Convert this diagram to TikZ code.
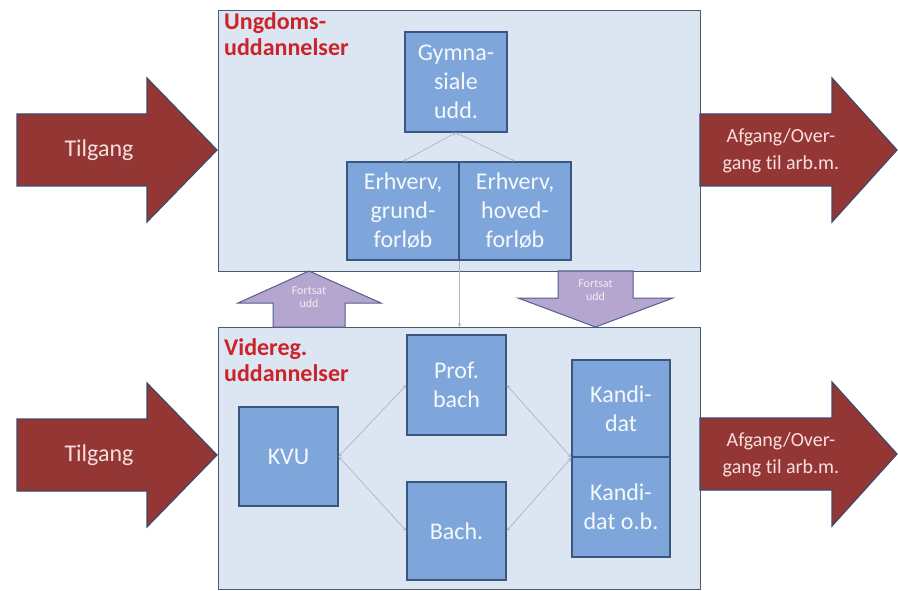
\documentclass[tikz,border=0pt]{standalone}
\usepackage{fontspec}
\setmainfont[Ligatures=NoCommon]{Carlito}
\definecolor{panelfill}{HTML}{DCE6F2}
\definecolor{panelline}{HTML}{4A5A72}
\definecolor{unitfill}{HTML}{7FA6DA}
\definecolor{unitline}{HTML}{3B5680}
\definecolor{flowfill}{HTML}{943634}
\definecolor{flowline}{HTML}{3C4A6B}
\definecolor{arrowpink}{HTML}{F6E0DE}
\definecolor{movefill}{HTML}{B4A6CF}
\definecolor{moveline}{HTML}{52618A}
\definecolor{linkgray}{HTML}{A7B6CB}
\definecolor{titlered}{HTML}{CC2229}

\begin{document}
\begin{tikzpicture}[x=1pt,y=-1pt,
    panel/.style={draw=panelline, fill=panelfill, line width=1.3pt, minimum width=482pt, anchor=north west, inner sep=0pt},
    unit/.style={draw=unitline, fill=unitfill, line width=1.2pt, text=white!92!unitfill, align=center, inner sep=0pt, font=\fontsize{24}{29}\selectfont},
    flow/.style={draw=flowline, fill=flowfill, line width=1.2pt},
    flowtext/.style={text=arrowpink, align=center},
    moveon/.style={draw=moveline, fill=movefill, line width=1pt},
    movetext/.style={text=white!80!movefill, align=center, font=\fontsize{12}{13}\selectfont},
    heading/.style={text=titlered, align=left, anchor=north west, inner sep=0pt, font=\bfseries\fontsize{24}{26}\selectfont},
    link/.style={draw=linkgray, line width=0.7pt, <->, >=stealth}]
            \useasboundingbox (0,0) rectangle (898,591);
            \node[panel, minimum height=261pt] (ungdom) at (218,10) {};
            \node[panel, minimum height=262pt] (videreg) at (218,327) {};
            \node[heading] (ungtitle) at (224,12) {Ungdoms-\\uddannelser};
            \node[heading] (vidtitle) at (224,338) {Videreg.\\uddannelser};
            \draw[moveon] (273,327) -- (273,303) -- (238,303) -- (309,271) -- (381,303) -- (345,303) -- (345,327) -- cycle;
            \node[movetext] (upnote) at (309,297) {Fortsat\\udd};
            \draw[moveon] (558,271) -- (633,271) -- (633,298) -- (673,298) -- (595.5,327) -- (518,298) -- (558,298) -- cycle;
            \node[movetext] (downnote) at (595.5,290) {Fortsat\\udd};
            \node[unit, minimum width=102pt, minimum height=100pt] (gym) at (456,82) {Gymna-\\siale\\udd.};
            \node[unit, minimum width=112pt, minimum height=98pt] (grund) at (403,211) {Erhverv,\\grund-\\forløb};
            \node[unit, minimum width=112pt, minimum height=98pt] (hoved) at (515,211) {Erhverv,\\hoved-\\forløb};
            \node[unit, minimum width=99pt, minimum height=100pt] (prof) at (456.5,385) {Prof.\\bach};
            \node[unit, minimum width=99pt, minimum height=98pt] (bach) at (456.5,531) {Bach.};
            \node[unit, minimum width=99pt, minimum height=99pt] (kvu) at (288.5,456.5) {KVU};
            \node[unit, minimum width=98pt, minimum height=97pt] (kand) at (621,408.5) {Kandi-\\dat};
            \node[unit, minimum width=98pt, minimum height=100pt] (kandob) at (621,507) {Kandi-\\dat o.b.};
            \draw[link] (gym.south) -- (grund.north);
            \draw[link] (gym.south) -- (hoved.north);
            \draw[link, ->] (grund.south east) -- (grund.south east |- videreg.north);
            \draw[link] (kvu.east) -- (prof.west);
            \draw[link] (kvu.east) -- (bach.west);
            \draw[link] (prof.east) -- (kand.south west);
            \draw[link] (bach.east) -- (kand.south west);
            \draw[flow] (17,114) -- (147,114) -- (147,78) -- (217,150) -- (147,222) -- (147,186) -- (17,186) -- cycle;
            \node[flowtext, font=\fontsize{24}{29}\selectfont] (intop) at (99,150) {Tilgang};
            \draw[flow] (17,419) -- (147,419) -- (147,383) -- (217,455) -- (147,527) -- (147,491) -- (17,491) -- cycle;
            \node[flowtext, font=\fontsize{24}{29}\selectfont] (inbottom) at (99,455) {Tilgang};
            \draw[flow] (700,114) -- (832,114) -- (832,78) -- (897,150) -- (832,222) -- (832,186) -- (700,186) -- cycle;
            \node[flowtext, font=\fontsize{20}{27}\selectfont] (outtop) at (781,151) {Afgang/Over-\\gang til arb.m.};
            \draw[flow] (700,418) -- (832,418) -- (832,382) -- (897,454) -- (832,526) -- (832,490) -- (700,490) -- cycle;
            \node[flowtext, font=\fontsize{20}{27}\selectfont] (outbottom) at (781,455) {Afgang/Over-\\gang til arb.m.};
            \end{tikzpicture}
\end{document}
